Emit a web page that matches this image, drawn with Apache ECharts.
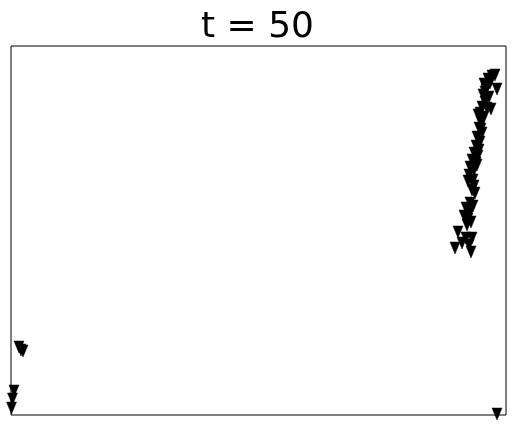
<!DOCTYPE html>
<html>
<head>
<meta charset="utf-8">
<script src="https://cdn.jsdelivr.net/npm/echarts@6/dist/echarts.min.js"></script>
<style>html,body{margin:0;padding:0;background:#fff}#c{width:515px;height:426px}</style>
</head>
<body>
<div id="c"></div>
<script>
const titleText = 't = 50';
// positions in axis units (x: 0..495, y: 0..369)
const xs = [481,477,484,473,479,486,475,472,478,474,471,476,469,473,467,470,468,471,466,469,465,468,463,467,461,465,459,463,458,462,457,463,461,464,459,462,455,459,453,457,460,447,455,461,451,458,444,460,456,
            8,12,10,3,1.5,0.5,486,470,474,466,480];
const ys = [339,336,340,331,332,326,325,320,318,313,308,307,302,298,300,293,287,282,278,273,269,265,262,259,255,252,248,245,240,235,234,229,225,222,212,209,207,203,199,196,193,183,177,177,172,170,167,163,190,
            68,64,65,24,16,7,1,286,323,250,306];
const pts = xs.map((x, i) => [x, ys[i]]);

const chart = echarts.init(document.getElementById('c'));
chart.setOption({
  animation: false,
  title: {
    text: titleText, left: 'center', top: 5,
    textStyle: { fontFamily: 'DejaVu Sans', fontSize: 36, fontWeight: 'normal', color: '#000' }
  },
  grid: { left: 11, right: 9, top: 46, bottom: 11, show: true, borderColor: '#000', borderWidth: 1, backgroundColor: '#fff' },
  xAxis: { type: 'value', min: 0, max: 495, axisLine: { show: false }, axisTick: { show: false }, axisLabel: { show: false }, splitLine: { show: false } },
  yAxis: { type: 'value', min: 0, max: 369, axisLine: { show: false }, axisTick: { show: false }, axisLabel: { show: false }, splitLine: { show: false } },
  series: [{
    type: 'scatter',
    data: pts,
    symbol: 'triangle',
    symbolRotate: 180,
    symbolSize: [10, 12],
    clip: true,
    itemStyle: { color: '#000', borderColor: '#000', borderWidth: 0.5, opacity: 1 }
  }]
});
</script>
</body>
</html>
